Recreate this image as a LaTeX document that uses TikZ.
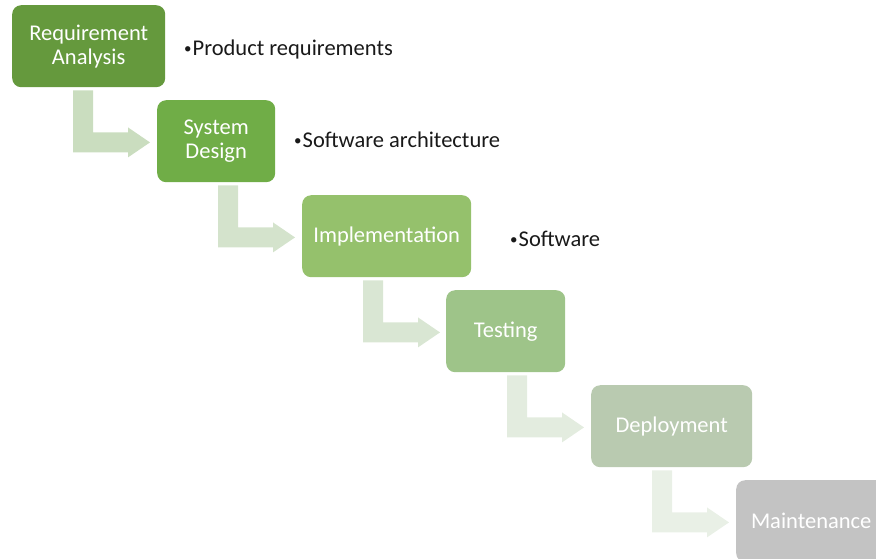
\documentclass[tikz,border=0pt]{standalone}
\usepackage{fontspec}
\setmainfont{Carlito}
\definecolor{stA}{HTML}{65993D}
\definecolor{stB}{HTML}{70AD47}
\definecolor{stC}{HTML}{95C16C}
\definecolor{stD}{HTML}{9EC489}
\definecolor{stE}{HTML}{B9CAB0}
\definecolor{stF}{HTML}{C3C3C3}
\definecolor{arA}{HTML}{CADDBF}
\definecolor{arB}{HTML}{D4E3CC}
\definecolor{arC}{HTML}{D9E6D3}
\definecolor{arD}{HTML}{E3ECDF}
\definecolor{arE}{HTML}{E9F0E6}
\tikzset{
  phase/.style={rounded corners=9pt, anchor=north west, minimum height=82pt,
    inner sep=0pt, align=center, text=white,
    font=\fontsize{22.5}{24}\selectfont},
  note/.style={anchor=base west, inner sep=0pt, text=black!90,
    font=\fontsize{22.5}{24}\selectfont},
}
% small list bullet placed before each note
\newcommand{\notedot}{\raisebox{2pt}{\fontsize{15}{15}\selectfont •}\hspace{1pt}}
% bent arrow from below one phase to the left side of the next
\newcommand{\stepflow}[2]{%
  \fill[#2] ([shift={(61,3)}]#1.south west) -- ++(20,0) -- ++(0,42) -- ++(35,0)
    -- ++(0,-5) -- ++(22,15) -- ++(-22,15) -- ++(0,-5) -- ++(-55,0) -- cycle;}
\begin{document}
\begin{tikzpicture}[x=1pt,y=-1pt]
\useasboundingbox (0,0) rectangle (876,558);
\clip (0,0) rectangle (876,558);

\node[phase, fill=stA, minimum width=153pt] (b1) at (12,5) {Requirement\\Analysis};
\node[phase, fill=stB, minimum width=118pt] (b2) at (157,100) {System\\Design};
\node[phase, fill=stC, minimum width=169pt] (b3) at (302,195) {Implementation};
\node[phase, fill=stD, minimum width=119pt] (b4) at (446,290) {Testing};
\node[phase, fill=stE, minimum width=161pt] (b5) at (591,385) {Deployment};
\node[phase, fill=stF, minimum width=150pt] (b6) at (736,480) {Maintenance};

\stepflow{b1}{arA}
\stepflow{b2}{arB}
\stepflow{b3}{arC}
\stepflow{b4}{arD}
\stepflow{b5}{arE}

\node[note] (n1) at (184,55) {\notedot Product requirements};
\node[note] (n2) at (294,147) {\notedot Software architecture};
\node[note] (n3) at (510,246) {\notedot Software};
\end{tikzpicture}
\end{document}
